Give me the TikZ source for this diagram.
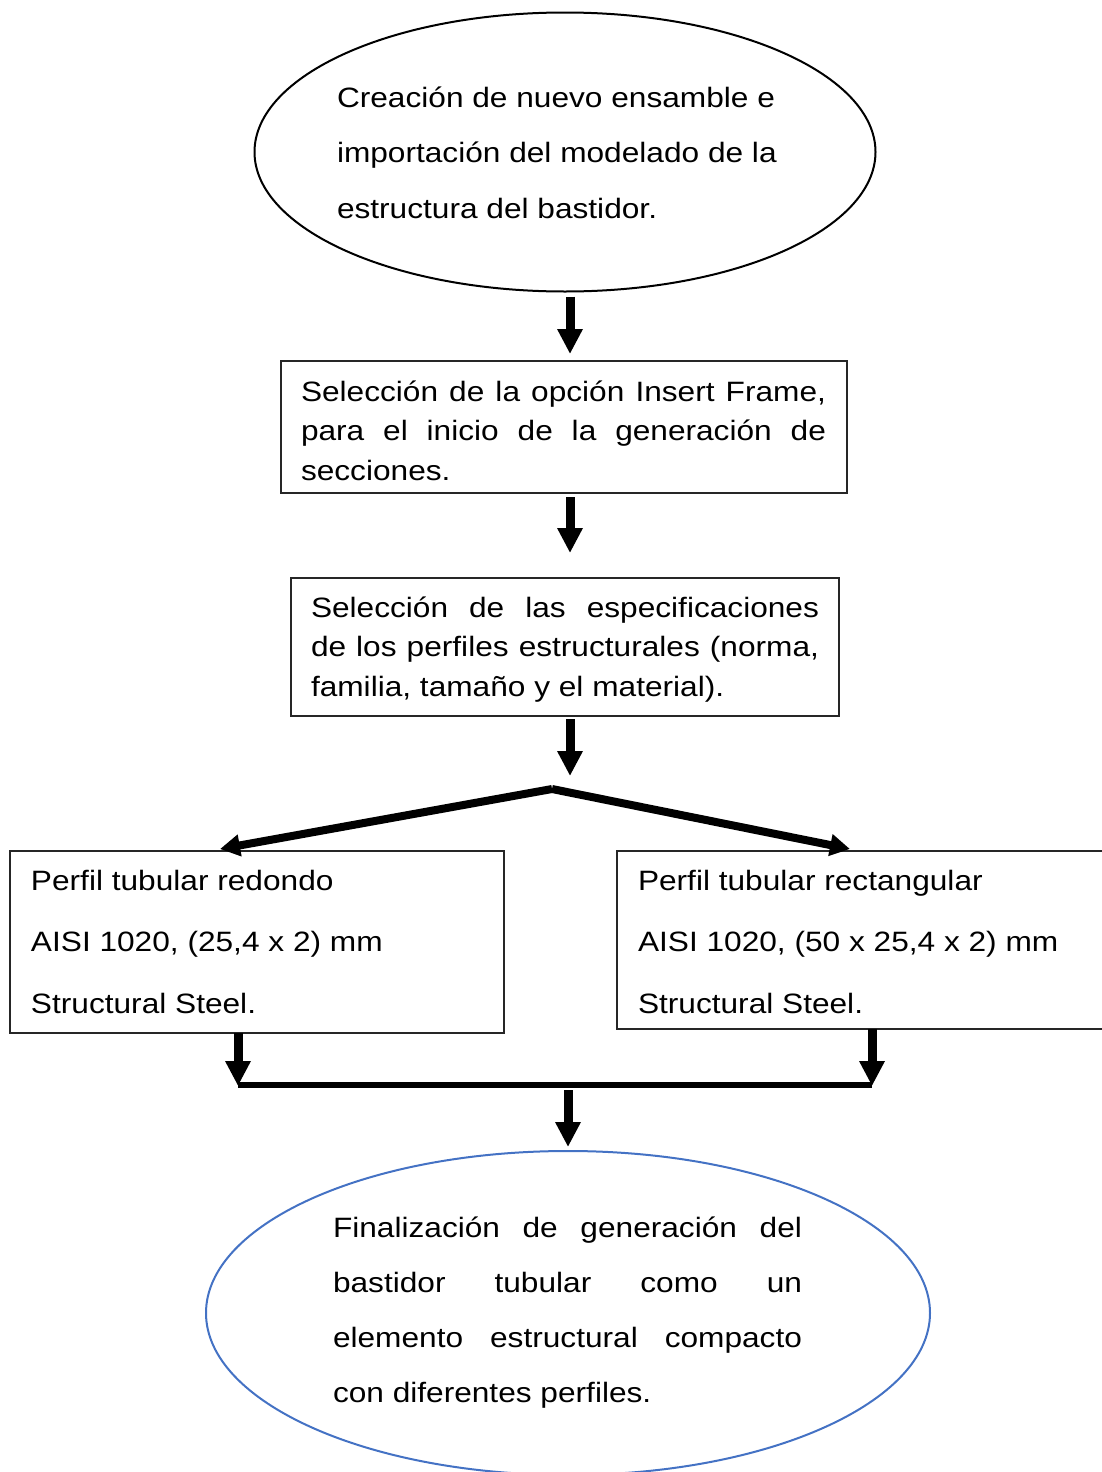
\documentclass[tikz,border=0pt]{standalone}
\usepackage{fontspec}
\setmainfont{Liberation Sans}[FakeStretch=1.13]
\usetikzlibrary{arrows.meta,shapes.geometric}

\definecolor{ovalblue}{RGB}{68,114,196}

\begin{document}
\begin{tikzpicture}[x=0.5pt,y=-0.5pt,
  every node/.style={inner sep=0pt, outer sep=0pt},
  txt/.style={anchor=base west, font=\fontsize{14}{#1}\selectfont},
  frame/.style={draw=black!85, line width=0.7pt, rectangle},
  oval/.style={draw, ellipse, line width=1pt},
  bigarrow/.style={line width=4.5pt, -{Triangle[length=12.5pt,width=12pt]}},
  fork/.style={line width=4pt, -{Triangle[length=10pt,width=10.5pt]}},
  joinline/.style={line width=3.2pt}
]
\useasboundingbox (0,0) rectangle (1102,1472);

% start oval (multi-line left-aligned text sits on its last baseline)
\node[oval, minimum width=310.5pt, minimum height=139.5pt] (start) at (565,152) {};
\node[txt=27.75pt, align=left] (starttxt) at (337,218)
  {Creación de nuevo ensamble e\\importación del modelado de la\\estructura del bastidor.};

% step boxes
\node[frame, minimum width=283pt, minimum height=66pt] (insert) at (564,427) {};
\node[txt=19.75pt, text width=262.5pt, align=justify] (inserttxt) at (301,401)
  {Selección de la opción Insert Frame,\linebreak para el inicio de la generación de\linebreak secciones.};

\node[frame, minimum width=274pt, minimum height=69pt] (specs) at (565,647) {};
\node[txt=19.75pt, text width=254pt, align=justify] (specstxt) at (311,617)
  {Selección de las especificaciones\linebreak de los perfiles estructurales (norma,\linebreak familia, tamaño y el material).};

% profile boxes
\node[frame, minimum width=247pt, minimum height=91pt] (round) at (257,942) {};
\node[txt=30.75pt, align=left] (roundtxt) at (31,1013)
  {Perfil tubular redondo\\AISI 1020, (25,4 x 2) mm\\Structural Steel.};

\node[frame, minimum width=244.5pt, minimum height=89pt] (rect) at (861.5,940) {};
\node[txt=30.75pt, align=left] (recttxt) at (638,1013)
  {Perfil tubular rectangular\\AISI 1020, (50 x 25,4 x 2) mm\\Structural Steel.};

% end oval
\node[oval, draw=ovalblue, minimum width=362pt, minimum height=162pt] (finish) at (568,1313) {};
\node[txt=27.5pt, text width=234.5pt, align=justify] (finishtxt) at (333,1237)
  {Finalización de generación del\linebreak bastidor tubular como un\linebreak elemento estructural compacto\linebreak con diferentes perfiles.};

% branching and joining points
\coordinate (split) at (552,789);
\coordinate (jl) at (238,1085);
\coordinate (jr) at (872,1085);

% connectors
\draw[bigarrow] ([xshift=2.5pt,yshift=-2.5pt]start.south) -- ([xshift=3pt,yshift=3.5pt]insert.north);
\draw[bigarrow] ([xshift=3pt,yshift=-2pt]insert.south) -- ([xshift=2.5pt,yshift=12.5pt]specs.north);
\draw[bigarrow] ([xshift=2.5pt,yshift=-1.5pt]specs.south) -- ([xshift=9pt,yshift=6.5pt]split);
\draw[fork, line join=round] (split) -- ([xshift=105pt,yshift=1pt]round.north west);
\draw[fork, line join=round] (split) -- ([xshift=116.5pt,yshift=1pt]rect.north west);
\draw[bigarrow] (round.south -| jl) -- ([yshift=-0.5pt]jl);
\draw[bigarrow] (rect.south -| jr) -- ([yshift=-0.5pt]jr);
\draw[joinline] (jl) -- (jr);
\draw[bigarrow] ([yshift=-2.5pt]jl -| finish.north) -- ([yshift=2pt]finish.north);
\end{tikzpicture}
\end{document}
